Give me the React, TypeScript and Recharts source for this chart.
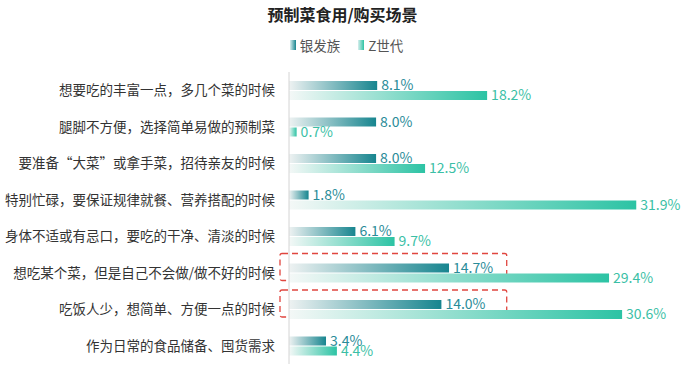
import { BarChart, Bar, XAxis, YAxis, LabelList, ReferenceArea } from "recharts";

const categories = [
  "想要吃的丰富一点，多几个菜的时候",
  "腿脚不方便，选择简单易做的预制菜",
  "要准备“大菜”或拿手菜，招待亲友的时候",
  "特别忙碌，要保证规律就餐、营养搭配的时候",
  "身体不适或有忌口，要吃的干净、清淡的时候",
  "想吃某个菜，但是自己不会做/做不好的时候",
  "吃饭人少，想简单、方便一点的时候",
  "作为日常的食品储备、囤货需求",
];
const silverValues = [8.1, 8.0, 8.0, 1.8, 6.1, 14.7, 14.0, 3.4];
const genZValues = [18.2, 0.7, 12.5, 31.9, 9.7, 29.4, 30.6, 4.4];
const seriesNames = ["银发族", "Z世代"];
const highlighted = [categories[5], categories[6]];

const data = categories.map((name, i) => ({
  name,
  silver: silverValues[i],
  genz: genZValues[i],
}));

const FONT = '"Noto Sans CJK SC", "Noto Sans", sans-serif';
const SILVER = "#17858f";
const GENZ = "#2cc3a4";

const fmt = (v: number) => `${v.toFixed(1)}%`;

// red dashed callout box, drawn a bit left of the axis and over the upper part of the band
const DashedBox = (props: any) => {
  const { x, y, width, height } = props;
  return (
    <rect
      x={x - 9}
      y={y - 1}
      width={width + 9}
      height={height * 0.74}
      rx={2}
      fill="none"
      stroke="#e0463f"
      strokeWidth={1.3}
      strokeDasharray="6 4"
    />
  );
};

export default function App() {
  return (
    <div style={{ position: "absolute", left: 0, top: 0, width: 685, height: 365, background: "#fff", fontFamily: FONT }}>
      <div
        style={{
          position: "absolute",
          top: 2,
          left: 0,
          width: 685,
          textAlign: "center",
          fontSize: 16,
          fontWeight: 700,
          color: "#222",
        }}
      >
        预制菜食用/购买场景
      </div>
      <div
        style={{
          position: "absolute",
          top: 35,
          left: 4,
          width: 685,
          display: "flex",
          justifyContent: "center",
          gap: 18,
          fontSize: 13.5,
          color: "#555",
        }}
      >
        {seriesNames.map((n, i) => (
          <span key={n} style={{ display: "flex", alignItems: "center", gap: 4 }}>
            <span
              style={{
                width: 6,
                height: 10,
                display: "inline-block",
                background: `linear-gradient(to right, #d8eeee, ${i === 0 ? SILVER : GENZ})`,
              }}
            />
            {n}
          </span>
        ))}
      </div>
      <BarChart
        width={685}
        height={365}
        data={data}
        layout="vertical"
        margin={{ top: 72, right: 15, bottom: 1, left: 0 }}
        barSize={9}
        barGap={1}
      >
        <defs>
          <linearGradient id="gSilver" x1="0" y1="0" x2="1" y2="0">
            <stop offset="0%" stopColor="#eef2f2" />
            <stop offset="100%" stopColor={SILVER} />
          </linearGradient>
          <linearGradient id="gGenz" x1="0" y1="0" x2="1" y2="0">
            <stop offset="0%" stopColor="#f4f8f7" />
            <stop offset="100%" stopColor={GENZ} />
          </linearGradient>
        </defs>
        <XAxis type="number" domain={[0, 35]} hide />
        <YAxis
          type="category"
          dataKey="name"
          width={289}
          tickLine={false}
          axisLine={{ stroke: "#d4d4d4" }}
          tickMargin={8}
          interval={0}
          tick={{ fontSize: 13.5, fill: "#333", fontFamily: FONT }}
        />
        {highlighted.map((c) => (
          <ReferenceArea key={c} y1={c} y2={c} x1={0} x2={20} ifOverflow="visible" shape={<DashedBox />} />
        ))}
        <Bar dataKey="silver" name={seriesNames[0]} fill="url(#gSilver)" isAnimationActive={false}>
          <LabelList
            dataKey="silver"
            position="right"
            offset={4}
            formatter={fmt}
            style={{ fontSize: 14, fill: "#2a8c99", fontFamily: FONT }}
          />
        </Bar>
        <Bar dataKey="genz" name={seriesNames[1]} fill="url(#gGenz)" isAnimationActive={false}>
          <LabelList
            dataKey="genz"
            position="right"
            offset={4}
            formatter={fmt}
            style={{ fontSize: 14, fill: "#3bbfa6", fontFamily: FONT }}
          />
        </Bar>
      </BarChart>
    </div>
  );
}
